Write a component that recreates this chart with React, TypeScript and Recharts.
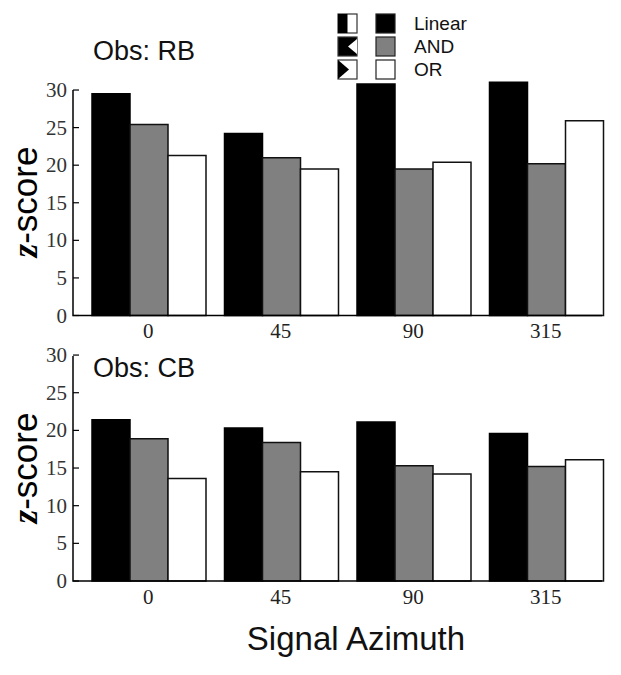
import { BarChart, Bar, XAxis, YAxis } from 'recharts';

const azimuths = ['0', '45', '90', '315'];
const linearRB = [29.5, 24.2, 30.8, 31.05];
const andRB = [25.4, 21.0, 19.5, 20.2];
const orRB = [21.3, 19.5, 20.4, 25.9];
const linearCB = [21.4, 20.3, 21.1, 19.6];
const andCB = [18.9, 18.4, 15.3, 15.2];
const orCB = [13.6, 14.5, 14.2, 16.1];
const yTicks = [0, 5, 10, 15, 20, 25, 30];
const legendLabels = ['Linear', 'AND', 'OR'];

const SERIF = '"Liberation Serif", serif';
const SANS = '"Liberation Sans", sans-serif';

const rows = (a: number[], b: number[], c: number[]) =>
  azimuths.map((name, i) => ({ name, linear: a[i], and: b[i], or: c[i] }));

function YTick({ y, payload }: any) {
  return (
    <g>
      <line x1={73} x2={79} y1={y} y2={y} stroke="#000" strokeWidth={1.2} />
      <text x={67} y={y + 7} textAnchor="end" fontFamily={SERIF} fontSize={21} fill="#333">
        {payload.value}
      </text>
    </g>
  );
}

function Panel({ data, top, bottom }: { data: any[]; top: number; bottom: number }) {
  return (
    <div style={{ position: 'absolute', left: 0, top }}>
      <BarChart
        width={621}
        height={345}
        data={data}
        barGap={0}
        barCategoryGap={10}
        margin={{ top: 75, right: 9, left: 0, bottom: 0 }}
      >
        <XAxis
          dataKey="name"
          axisLine={false}
          tickLine={false}
          height={bottom}
          padding={{ left: 9, right: 0 }}
          tick={{ fontFamily: SERIF, fontSize: 21, fill: '#222' }}
          tickMargin={2}
          interval={0}
        />
        <YAxis
          width={73}
          domain={[0, 32]}
          ticks={yTicks}
          axisLine={false}
          tickLine={false}
          interval={0}
          tick={<YTick />}
        />
        <Bar dataKey="linear" fill="#000" stroke="#000" strokeWidth={1.5} isAnimationActive={false} />
        <Bar dataKey="and" fill="#808080" stroke="#111" strokeWidth={1.5} isAnimationActive={false} />
        <Bar dataKey="or" fill="#fff" stroke="#111" strokeWidth={1.5} isAnimationActive={false} />
      </BarChart>
    </div>
  );
}

function YLabel({ y }: { y: number }) {
  return (
    <text
      transform={`translate(37 ${y}) rotate(-90)`}
      textAnchor="middle"
      fontFamily={SANS}
      fontSize={35}
      fill="#000"
    >
      <tspan fontFamily={SERIF} fontStyle="italic" fontWeight="bold">z</tspan>-score
    </text>
  );
}

function Overlay() {
  const fills = ['#000', '#808080', '#fff'];
  const ys = [14, 37, 60];
  return (
    <svg width={621} height={675} style={{ position: 'absolute', left: 0, top: 0 }}>
      {/* axis lines stop at 30 and at the right edge of the last bar */}
      <path d="M73 90V315.5H602" fill="none" stroke="#000" strokeWidth={1.5} />
      <path d="M73 356V581H602" fill="none" stroke="#000" strokeWidth={1.5} />

      <text x={93} y={60} fontFamily={SANS} fontSize={27} fill="#111">Obs: RB</text>
      <text x={93} y={377} fontFamily={SANS} fontSize={27} fill="#111">Obs: CB</text>
      <YLabel y={202} />
      <YLabel y={468} />
      <text x={356} y={650} textAnchor="middle" fontFamily={SANS} fontSize={33} fill="#111">
        Signal Azimuth
      </text>

      {/* legend */}
      <rect x={338} y={14} width={19} height={19} fill="#fff" stroke="#333" strokeWidth={1.2} />
      <rect x={338} y={14} width={9.5} height={19} fill="#000" />
      <rect x={338} y={37} width={19} height={19} fill="#000" stroke="#333" strokeWidth={1.2} />
      <polygon points="357,39 348,46.5 357,54" fill="#fff" />
      <rect x={338} y={60} width={19} height={19} fill="#fff" stroke="#333" strokeWidth={1.2} />
      <polygon points="338,60 349,69.5 338,79" fill="#000" />
      {legendLabels.map((label, i) => (
        <g key={label}>
          <rect x={376} y={ys[i]} width={19} height={19} fill={fills[i]} stroke="#222" strokeWidth={1.2} />
          <text x={414} y={ys[i] + 15.5} fontFamily={SANS} fontSize={19} fill="#111">{label}</text>
        </g>
      ))}
    </svg>
  );
}

export default function App() {
  return (
    <div style={{ position: 'absolute', left: 0, top: 0, width: 621, height: 675, background: '#fff' }}>
      <Panel data={rows(linearRB, andRB, orRB)} top={0} bottom={29.5} />
      <Panel data={rows(linearCB, andCB, orCB)} top={265} bottom={29} />
      <Overlay />
    </div>
  );
}
